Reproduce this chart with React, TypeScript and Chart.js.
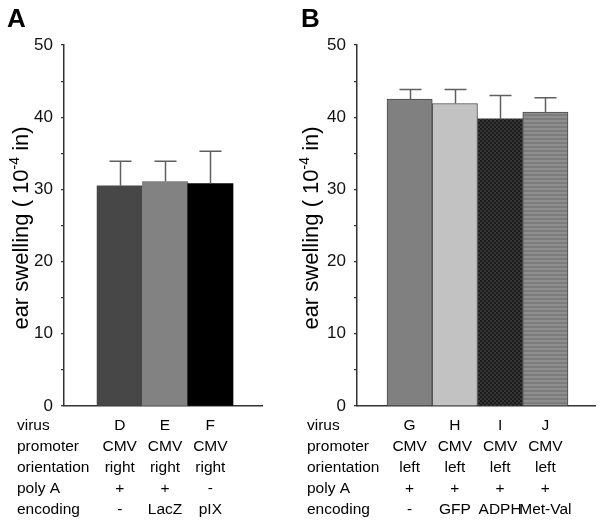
import React, { useEffect, useRef } from 'react';
import { Chart, registerables } from 'chart.js';

Chart.register(...registerables);

const FONT = '"Liberation Sans", Arial, Helvetica, sans-serif';

const rowLabels = ['virus', 'promoter', 'orientation', 'poly A', 'encoding'];

// Panel A
const virusA = ['D', 'E', 'F'];
const promoterA = ['CMV', 'CMV', 'CMV'];
const orientationA = ['right', 'right', 'right'];
const polyA_A = ['+', '+', '-'];
const encodingA = ['-', 'LacZ', 'pIX'];
const swellingA = [30.5, 31.1, 30.8];
const errorA = [3.4, 2.8, 4.5];
const colorsA: (string | null)[] = ['#474747', '#828282', '#000000'];

// Panel B
const virusB = ['G', 'H', 'I', 'J'];
const promoterB = ['CMV', 'CMV', 'CMV', 'CMV'];
const orientationB = ['left', 'left', 'left', 'left'];
const polyA_B = ['+', '+', '+', '+'];
const encodingB = ['-', 'GFP', 'ADPH', 'Met-Val'];
const swellingB = [42.5, 41.9, 39.8, 40.7];
const errorB = [1.35, 1.95, 3.2, 2.0];
const colorsB: (string | null)[] = ['#808080', '#c2c2c2', 'checker', 'stripes'];

const yMin = 0;
const yMax = 50;
const yStep = 5;
const yLabelStep = 10;

type PanelProps = {
  letter: string;
  left: number;
  width: number;
  axisLeft: number;
  axisRight: number;
  xMin: number;
  xMax: number;
  values: number[];
  errors: number[];
  colors: (string | null)[];
  rows: string[][];
  borderColor: string;
  borderWidth: number;
};

const H = 520;
const AXIS_BOTTOM = 406;
const AXIS_TOP = 45;

function makePattern(kind: string): CanvasPattern | string {
  const c = document.createElement('canvas');
  const ctx = c.getContext('2d')!;
  if (kind === 'checker') {
    c.width = 4; c.height = 4;
    ctx.fillStyle = '#1c1c1c';
    ctx.fillRect(0, 0, 4, 4);
    ctx.fillStyle = '#353535';
    ctx.fillRect(0, 0, 2, 2);
    ctx.fillRect(2, 2, 2, 2);
  } else {
    c.width = 4; c.height = 4;
    ctx.fillStyle = '#8e8e8e';
    ctx.fillRect(0, 0, 4, 4);
    ctx.fillStyle = '#7c7c7c';
    ctx.fillRect(0, 2, 4, 2);
  }
  return ctx.createPattern(c, 'repeat') || '#888';
}

function Panel(p: PanelProps) {
  const ref = useRef<HTMLCanvasElement | null>(null);
  useEffect(() => {
    const canvas = ref.current!;
    const fills = p.colors.map((c) => (c === 'checker' || c === 'stripes' ? makePattern(c) : c));
    const extras = {
      id: 'extras' + p.letter,
      afterDatasetsDraw(chart: any) {
        const { ctx } = chart;
        const x = chart.scales.x;
        const y = chart.scales.y;
        ctx.save();
        ctx.strokeStyle = '#5f5f5f';
        ctx.lineWidth = 1.5;
        p.values.forEach((v, i) => {
          const px = Math.round(x.getPixelForValue(i + 1)) + 0.5;
          const top = y.getPixelForValue(v + p.errors[i]);
          const base = y.getPixelForValue(v);
          ctx.beginPath();
          ctx.moveTo(px, base);
          ctx.lineTo(px, top);
          ctx.moveTo(px - 11, top);
          ctx.lineTo(px + 11, top);
          ctx.stroke();
        });
        ctx.restore();
      },
      afterDraw(chart: any) {
        const { ctx } = chart;
        const x = chart.scales.x;
        ctx.save();
        // Panel letter
        ctx.fillStyle = '#000';
        ctx.font = `bold 26px ${FONT}`;
        ctx.textAlign = 'left';
        ctx.textBaseline = 'alphabetic';
        ctx.fillText(p.letter, p.letter === 'A' ? 7 : 11, 27);

        // Y axis title with superscript
        ctx.translate(28, 228);
        ctx.rotate(-Math.PI / 2);
        const big = `22px ${FONT}`;
        const small = `14px ${FONT}`;
        const part1 = 'ear swelling ( 10';
        const sup = '-4';
        const part2 = ' in)';
        ctx.font = big;
        const w1 = ctx.measureText(part1).width;
        const w3 = ctx.measureText(part2).width;
        ctx.font = small;
        const w2 = ctx.measureText(sup).width;
        let sx = -(w1 + w2 + w3) / 2;
        ctx.textAlign = 'left';
        ctx.font = big;
        ctx.fillText(part1, sx, 0);
        sx += w1;
        ctx.font = small;
        ctx.fillText(sup, sx, -9);
        sx += w2;
        ctx.font = big;
        ctx.fillText(part2, sx, 0);
        ctx.restore();

        // Table below the axis
        ctx.save();
        ctx.fillStyle = '#000';
        ctx.font = `15.5px ${FONT}`;
        ctx.textBaseline = 'alphabetic';
        const baselines = [430, 451, 472, 493, 514];
        rowLabels.forEach((lab, r) => {
          ctx.textAlign = 'left';
          ctx.fillText(lab, 17, baselines[r]);
          ctx.textAlign = 'center';
          p.rows[r].forEach((cell, i) => {
            ctx.fillText(cell, x.getPixelForValue(i + 1), baselines[r]);
          });
        });
        ctx.restore();
      },
    };

    const chart = new Chart(canvas, {
      type: 'bar',
      data: {
        datasets: [
          {
            data: p.values.map((v, i) => ({ x: i + 1, y: v })),
            backgroundColor: fills as any,
            borderColor: p.borderColor,
            borderWidth: p.borderWidth,
            categoryPercentage: 1,
            barPercentage: 1,
          } as any,
        ],
      },
      options: {
        animation: false,
        responsive: false,
        devicePixelRatio: 1,
        layout: { padding: { top: AXIS_TOP, right: p.width - p.axisRight, left: 0, bottom: 0 } },
        plugins: { legend: { display: false }, tooltip: { enabled: false } },
        scales: {
          x: {
            type: 'linear',
            offset: false,
            min: p.xMin,
            max: p.xMax,
            ticks: { display: false },
            grid: { display: false, offset: false },
            border: { display: true, color: '#333', width: 1.5 },
            afterBuildTicks: (s: any) => {
              s.ticks = p.values.map((_, i) => ({ value: i + 1 }));
            },
            afterFit: (s: any) => {
              s.height = H - AXIS_BOTTOM;
            },
          },
          y: {
            type: 'linear',
            min: yMin,
            max: yMax,
            ticks: {
              stepSize: yStep,
              autoSkip: false,
              padding: 8,
              color: '#111',
              font: { family: FONT, size: 17 },
              callback: (v: any) => (Number(v) % yLabelStep === 0 ? String(v) : ''),
            },
            grid: { display: true, drawOnChartArea: false, drawTicks: true, tickLength: 3, color: '#333', lineWidth: 1.2 },
            border: { display: true, color: '#333', width: 1.5 },
            afterFit: (s: any) => {
              s.width = p.axisLeft;
            },
          },
        },
      },
      plugins: [extras as any],
    });
    return () => chart.destroy();
  }, []);
  return (
    <canvas
      ref={ref}
      width={p.width}
      height={H}
      style={{ position: 'absolute', left: p.left, top: 0, width: p.width, height: H }}
    />
  );
}

export default function App() {
  useEffect(() => {
    document.body.style.margin = '0';
    document.body.style.background = '#fff';
  }, []);
  return (
    <div style={{ position: 'fixed', left: 0, top: 0, width: 600, height: H, background: '#fff' }}>
      <Panel
        letter="A"
        left={0}
        width={290}
        axisLeft={64}
        axisRight={262}
        xMin={-0.23}
        xMax={4.14}
        values={swellingA}
        errors={errorA}
        colors={colorsA}
        rows={[virusA, promoterA, orientationA, polyA_A, encodingA]}
        borderColor="rgba(0,0,0,0)"
        borderWidth={0}
      />
      <Panel
        letter="B"
        left={290}
        width={310}
        axisLeft={67}
        axisRight={305}
        xMin={-0.163}
        xMax={5.097}
        values={swellingB}
        errors={errorB}
        colors={colorsB}
        rows={[virusB, promoterB, orientationB, polyA_B, encodingB]}
        borderColor="#4a4a4a"
        borderWidth={1}
      />
    </div>
  );
}
